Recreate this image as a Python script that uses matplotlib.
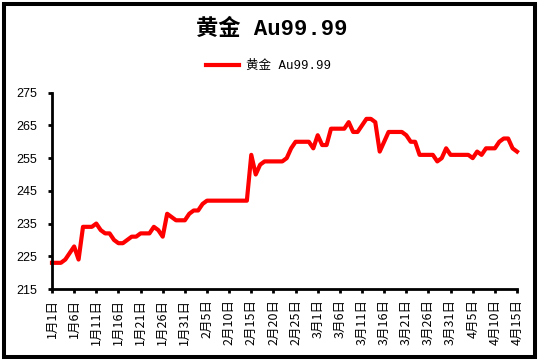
import numpy as np
import matplotlib
matplotlib.use("Agg")
import matplotlib.pyplot as plt
from matplotlib.patches import Rectangle

# ── 数据：每日价格（1月1日 ~ 4月15日）──
prices = [
    223, 223, 223, 224, 226, 228, 224, 234, 234, 234,
    235, 233, 232, 232, 230, 229, 229, 230, 231, 231,
    232, 232, 232, 234, 233, 231, 238, 237, 236, 236,
    236, 238, 239, 239, 241, 242, 242, 242, 242, 242,
    242, 242, 242, 242, 242, 256, 250, 253, 254, 254,
    254, 254, 254, 255, 258, 260, 260, 260, 260, 258,
    262, 259, 259, 264, 264, 264, 264, 266, 263, 263,
    265, 267, 267, 266, 257, 260, 263, 263, 263, 263,
    262, 260, 260, 256, 256, 256, 256, 254, 255, 258,
    256, 256, 256, 256, 256, 255, 257, 256, 258, 258,
    258, 260, 261, 261, 258, 257,
]
tick_labels = [
    "1月1日", "1月6日", "1月11日", "1月16日", "1月21日", "1月26日", "1月31日",
    "2月5日", "2月10日", "2月15日", "2月20日", "2月25日",
    "3月1日", "3月6日", "3月11日", "3月16日", "3月21日", "3月26日", "3月31日",
    "4月5日", "4月10日", "4月15日",
]
y_ticks = [215, 225, 235, 245, 255, 265, 275]
series_name = "黄金 Au99.99"
title = "黄金 Au99.99"

CJK = ["Noto Sans CJK SC", "DejaVu Sans"]

fig = plt.figure(figsize=(5.44, 3.64), dpi=100)
ax = fig.add_axes([52 / 544, 1 - 289 / 364, (517 - 52) / 544, (289 - 92.7) / 364])

days = np.arange(len(prices))
ax.plot(days, prices, color="#ff0000", linewidth=3, label=series_name,
        solid_joinstyle="round", clip_on=False)

ax.set_xlim(0, len(prices) - 1)
ax.set_ylim(215, 275)
ax.set_yticks(y_ticks)
ax.set_xticks(np.arange(0, len(prices), 5))
ax.set_xticklabels(tick_labels, rotation=90, family=CJK, fontsize=9)
for lab in ax.get_yticklabels():
    lab.set_family(["Liberation Sans"])
    lab.set_fontsize(9)

for side in ("top", "right"):
    ax.spines[side].set_visible(False)
for side in ("left", "bottom"):
    ax.spines[side].set_linewidth(2)
ax.tick_params(axis="both", direction="out", length=3, width=2, color="black")
ax.tick_params(axis="y", pad=8)
ax.tick_params(axis="x", pad=4)

# 标题与图例
fig.text(0.499, 0.918, title, ha="center", va="center", fontsize=16,
         fontweight="bold", family=["Liberation Mono", "Noto Sans CJK SC"])
leg = ax.legend(loc="center", bbox_to_anchor=(0.494, 0.819),
                bbox_transform=fig.transFigure, frameon=False,
                handlelength=2.6, handletextpad=0.6,
                prop={"family": ["Liberation Mono", "Noto Sans CJK SC"], "size": 9})

# 外框
fig.patches.append(Rectangle((3.7 / 544, 1 - 357 / 364), (535.3 - 3.7) / 544,
                             (357 - 4) / 364, transform=fig.transFigure,
                             fill=False, edgecolor="black", linewidth=2.9))

fig.savefig("out.png", dpi=100)
